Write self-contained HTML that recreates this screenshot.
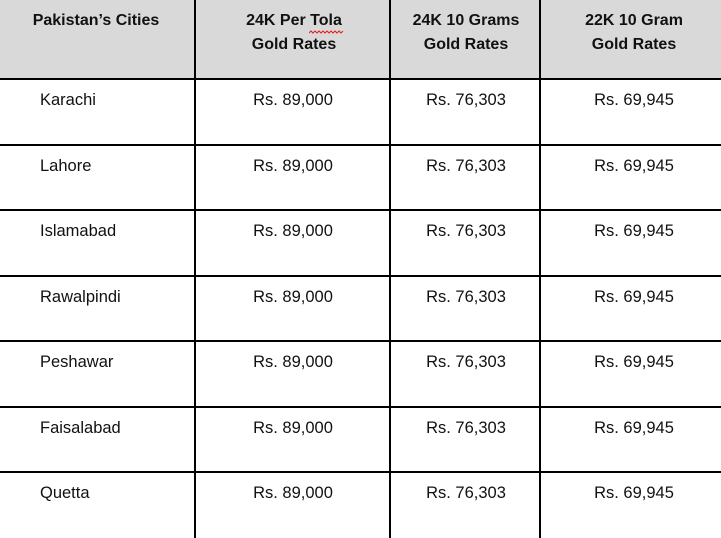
<!DOCTYPE html>
<html><head><meta charset="utf-8"><style>
html,body{margin:0;padding:0;background:#fff;}
#c{position:relative;width:721px;height:538px;overflow:hidden;background:#fff;font-family:"Liberation Sans",Arial,sans-serif;color:#000;}
.hdr{position:absolute;left:0;top:0;width:721px;height:79px;background:#d9d9d9;}
.h{position:absolute;height:2px;left:0;width:721px;background:#000;}
.v{position:absolute;width:2px;top:0;height:538px;background:#000;}
.ht{position:absolute;width:200px;text-align:center;font-weight:bold;font-size:16px;line-height:24px;white-space:nowrap;color:#111;}
.t{position:absolute;font-size:16.5px;line-height:20px;white-space:nowrap;color:#111;}
.cc{width:200px;text-align:center;}
</style></head><body><div id="c">
<div class="hdr"></div>
<div class="v" style="left:194px"></div>
<div class="v" style="left:389px"></div>
<div class="v" style="left:539px"></div>
<div class="h" style="top:78px"></div>
<div class="h" style="top:144px"></div>
<div class="h" style="top:209px"></div>
<div class="h" style="top:275px"></div>
<div class="h" style="top:340px"></div>
<div class="h" style="top:406px"></div>
<div class="h" style="top:471px"></div>

<div class="ht" style="left:-4px;top:9px">Pakistan’s Cities</div>
<div class="ht" style="left:194px;top:9px">24K Per Tola<br>Gold Rates</div>
<div class="ht" style="left:366px;top:9px">24K 10 Grams<br>Gold Rates</div>
<div class="ht" style="left:534px;top:9px">22K 10 Gram<br>Gold Rates</div>
<svg style="position:absolute;left:309px;top:30px" width="36" height="5"><polyline fill="none" stroke="#e02020" stroke-width="1" points="0,3 2,1 4,3 6,1 8,3 10,1 12,3 14,1 16,3 18,1 20,3 22,1 24,3 26,1 28,3 30,1 32,3 34,1"/></svg>

<div class="t" style="left:40px;top:90px">Karachi</div>
<div class="t cc" style="left:193px;top:90px">Rs. 89,000</div>
<div class="t cc" style="left:366px;top:90px">Rs. 76,303</div>
<div class="t cc" style="left:534px;top:90px">Rs. 69,945</div>

<div class="t" style="left:40px;top:156px">Lahore</div>
<div class="t cc" style="left:193px;top:156px">Rs. 89,000</div>
<div class="t cc" style="left:366px;top:156px">Rs. 76,303</div>
<div class="t cc" style="left:534px;top:156px">Rs. 69,945</div>

<div class="t" style="left:40px;top:221px">Islamabad</div>
<div class="t cc" style="left:193px;top:221px">Rs. 89,000</div>
<div class="t cc" style="left:366px;top:221px">Rs. 76,303</div>
<div class="t cc" style="left:534px;top:221px">Rs. 69,945</div>

<div class="t" style="left:40px;top:287px">Rawalpindi</div>
<div class="t cc" style="left:193px;top:287px">Rs. 89,000</div>
<div class="t cc" style="left:366px;top:287px">Rs. 76,303</div>
<div class="t cc" style="left:534px;top:287px">Rs. 69,945</div>

<div class="t" style="left:40px;top:352px">Peshawar</div>
<div class="t cc" style="left:193px;top:352px">Rs. 89,000</div>
<div class="t cc" style="left:366px;top:352px">Rs. 76,303</div>
<div class="t cc" style="left:534px;top:352px">Rs. 69,945</div>

<div class="t" style="left:40px;top:418px">Faisalabad</div>
<div class="t cc" style="left:193px;top:418px">Rs. 89,000</div>
<div class="t cc" style="left:366px;top:418px">Rs. 76,303</div>
<div class="t cc" style="left:534px;top:418px">Rs. 69,945</div>

<div class="t" style="left:40px;top:483px">Quetta</div>
<div class="t cc" style="left:193px;top:483px">Rs. 89,000</div>
<div class="t cc" style="left:366px;top:483px">Rs. 76,303</div>
<div class="t cc" style="left:534px;top:483px">Rs. 69,945</div>
</div></body></html>
